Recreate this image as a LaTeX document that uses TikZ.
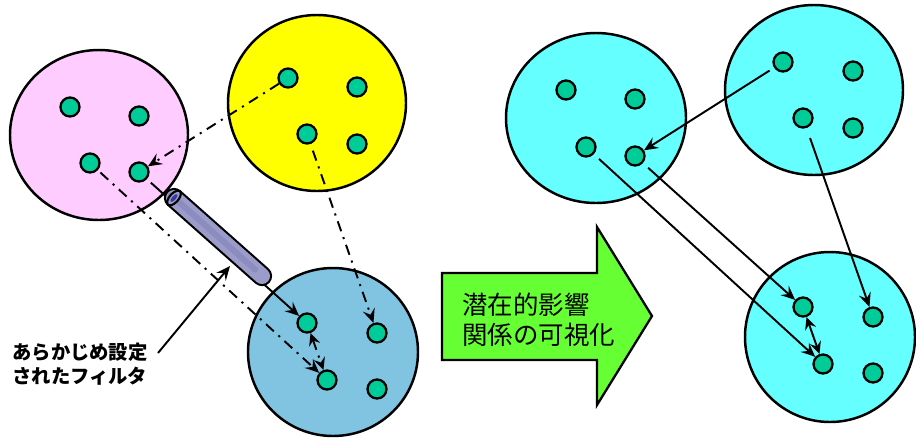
\documentclass[tikz,border=0pt]{standalone}
\usepackage{fontspec}
\newfontfamily\jp{Noto Sans CJK JP}
\usetikzlibrary{arrows.meta,shapes.geometric}
\definecolor{pinkc}{HTML}{FFCCFF}
\definecolor{yellowc}{HTML}{FFFF00}
\definecolor{bluec}{HTML}{80C4E2}
\definecolor{cyanc}{HTML}{66FFFF}
\definecolor{dotc}{HTML}{00CC99}
\definecolor{greenc}{HTML}{66FF33}
\definecolor{tubec}{HTML}{9C9CCB}
\definecolor{tubedark}{HTML}{8C8CBE}
\definecolor{tubein}{HTML}{3838A0}
\tikzset{
  grp/.style={draw=black,line width=1.4pt},
  dotn/.style={circle,draw=black,fill=dotc,line width=1.3pt,minimum size=0.38cm,inner sep=0pt},
  ddarrow/.style={line width=1.1pt,dash pattern=on 6pt off 3.5pt on 1.2pt off 3.5pt,-{Stealth[length=8pt,width=7pt,inset=3pt]}},
  ddboth/.style={line width=1.1pt,dash pattern=on 6pt off 3.5pt on 1.2pt off 3.5pt,{Stealth[length=7pt,width=6.5pt,inset=2.5pt]}-{Stealth[length=7pt,width=6.5pt,inset=2.5pt]}},
  solarrow/.style={line width=1.1pt,-{Stealth[length=8pt,width=7pt,inset=3pt]}},
  solboth/.style={line width=1.1pt,{Stealth[length=7pt,width=6.5pt,inset=2.5pt]}-{Stealth[length=7pt,width=6.5pt,inset=2.5pt]}},
}
\begin{document}
\begin{tikzpicture}[x=0.02cm,y=-0.02cm]
\useasboundingbox (0,0) rectangle (916,437);
% left panel circles
\draw[grp,fill=pinkc] (99,135) ellipse [x radius=89, y radius=85];
\draw[grp,fill=yellowc] (317,103) ellipse [x radius=89, y radius=88];
\draw[grp,fill=bluec] (333,352) ellipse [x radius=85, y radius=84];
% left dots
\node[dotn] (p1) at (70,107) {};
\node[dotn] (p2) at (139,116) {};
\node[dotn] (p3) at (90,163) {};
\node[dotn] (p4) at (139,172) {};
\node[dotn] (y1) at (288,78) {};
\node[dotn] (y2) at (357,87) {};
\node[dotn] (y3) at (307,134) {};
\node[dotn] (y4) at (357,144) {};
\node[dotn] (b1) at (307,323) {};
\node[dotn] (b2) at (377,333) {};
\node[dotn] (b3) at (327,380) {};
\node[dotn] (b4) at (377,389) {};
% left connectors
\draw[ddarrow] (y1) -- (p4);
\draw[ddarrow,shorten <=2pt] (p3) -- (b3);
\draw[ddarrow,shorten <=4pt] (y3) -- (b2);
\draw[ddboth] (b1) -- (b3);
\draw[solarrow,shorten <=3pt] (p4) -- (b1);
% tube (filter)
\coordinate (ts) at (174,198);
\coordinate (te) at (262,276);
\draw[line width=0.32cm+2.4pt,black,line cap=round] (ts) -- (te);
\draw[line width=0.32cm,tubec,line cap=round] (ts) -- (te);
\draw[line width=0.12cm,tubedark,line cap=round,shorten >=3pt] ([shift={(-3,-3)}]ts) -- ([shift={(-3,-3)}]te);
\node[ellipse,draw=black,fill=tubec,line width=1.2pt,minimum width=0.18cm,minimum height=0.36cm,inner sep=0pt,rotate=-41.5] (tcap) at (ts) {};
\node[ellipse,fill=tubein,minimum width=0.08cm,minimum height=0.2cm,inner sep=0pt,rotate=-41.5] (thole) at (ts) {};
% label
\node[font=\jp\bfseries\fontsize{11pt}{14pt}\selectfont,align=left,anchor=west,inner sep=0pt] (lbl) at (12,364) {あらかじめ設定\\されたフィルタ};
\coordinate (lblstart) at (158,353);
\coordinate (lblend) at (230,266);
\draw[solarrow] (lblstart) -- (lblend);
% green arrow
\draw[line width=1.3pt,fill=greenc] (442,273) -- (597,273) -- (597,227) -- (652,316) -- (597,405) -- (597,360) -- (442,360) -- cycle;
\node[font=\jp\fontsize{14.5pt}{17pt}\selectfont,align=left,anchor=west,inner sep=0pt] (gtxt) at (462,320) {潜在的影響\\関係の可視化};
% right panel circles
\draw[grp,fill=cyanc] (596,118) ellipse [x radius=90, y radius=85];
\draw[grp,fill=cyanc] (814,90) ellipse [x radius=89, y radius=85];
\draw[grp,fill=cyanc] (830,337) ellipse [x radius=85, y radius=85];
\node[dotn] (r1) at (566,90) {};
\node[dotn] (r2) at (635,99) {};
\node[dotn] (r3) at (586,147) {};
\node[dotn] (r4) at (635,156) {};
\node[dotn] (s1) at (783,62) {};
\node[dotn] (s2) at (853,71) {};
\node[dotn] (s3) at (803,118) {};
\node[dotn] (s4) at (853,128) {};
\node[dotn] (t1) at (803,307) {};
\node[dotn] (t2) at (873,317) {};
\node[dotn] (t3) at (823,364) {};
\node[dotn] (t4) at (873,373) {};
\draw[solarrow,shorten <=3pt] (s1) -- (r4);
\draw[solarrow,shorten <=4pt] (r3) -- (t3);
\draw[solarrow,shorten <=4pt] (r4) -- (t1);
\draw[solarrow,shorten <=6pt] (s3) -- (t2);
\draw[solboth] (t1) -- (t3);
\end{tikzpicture}
\end{document}
